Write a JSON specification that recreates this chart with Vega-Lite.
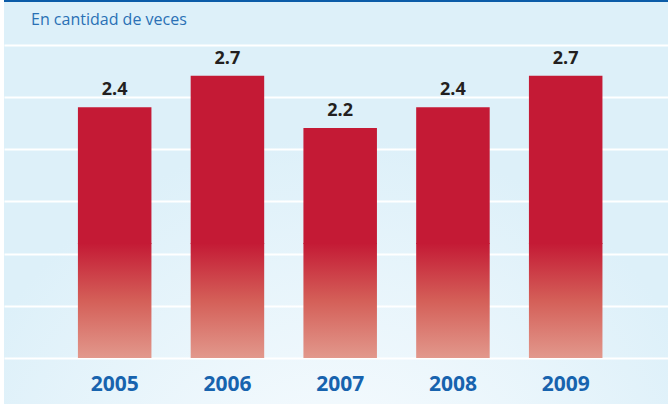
{
  "$schema": "https://vega.github.io/schema/vega-lite/v6.json",
  "width": 664,
  "height": 404,
  "autosize": {"type": "none"},
  "padding": {"left": 4, "top": 0, "right": 0, "bottom": 0},
  "background": "white",
  "config": {
    "font": "Open Sans",
    "view": {
      "stroke": null,
      "fill": {
        "gradient": "radial",
        "x1": 0.5, "y1": 1, "r1": 0,
        "x2": 0.5, "y2": 1, "r2": 0.6,
        "stops": [
          {"offset": 0, "color": "#fbfdff"},
          {"offset": 1, "color": "#ddf0f9"}
        ]
      }
    }
  },
  "title": {
    "text": "En cantidad de veces",
    "anchor": "start",
    "frame": "group",
    "orient": "top",
    "offset": -24,
    "dy": 19,
    "baseline": "alphabetic",
    "dx": 27,
    "fontSize": 16,
    "fontWeight": "normal",
    "color": "#2a70b5"
  },
  "data": {
    "values": [
      {"year": "2005", "value": 2.4},
      {"year": "2006", "value": 2.7},
      {"year": "2007", "value": 2.2},
      {"year": "2008", "value": 2.4},
      {"year": "2009", "value": 2.7}
    ]
  },
  "layer": [
    {
      "mark": {
        "type": "bar",
        "fill": {
          "gradient": "linear",
          "x1": 0, "y1": 0, "x2": 0, "y2": 1,
          "stops": [
            {"offset": 0, "color": "#c41a35"},
            {"offset": 0.5, "color": "#d45f58"},
            {"offset": 1, "color": "#e2988c"}
          ]
        }
      },
      "encoding": {
        "x": {
          "field": "year",
          "type": "nominal",
          "scale": {"paddingInner": 0.348, "paddingOuter": 0.6185, "align": 0.53},
          "axis": {
            "title": null,
            "orient": "bottom",
            "offset": -46,
            "domain": false,
            "ticks": false,
            "tickSize": 0,
            "labelPadding": 32,
            "labelBaseline": "alphabetic",
            "labelFontSize": 21,
            "labelFontWeight": "bold",
            "labelColor": "#1763ae",
            "labelAngle": 0,
            "grid": false
          }
        },
        "y": {
          "datum": 1.1,
          "type": "quantitative",
          "scale": {"domain": [-0.44, 3.426], "nice": false, "zero": false},
          "axis": {
            "title": null,
            "labels": false,
            "ticks": false,
            "domain": false,
            "grid": true,
            "gridColor": "white",
            "gridWidth": 2,
            "gridOpacity": 1,
            "values": [0, 0.5, 1, 1.5, 2, 2.5, 3]
          }
        },
        "y2": {"datum": 0}
      }
    },
    {
      "mark": {"type": "bar", "color": "#c41a35"},
      "encoding": {
        "x": {"field": "year", "type": "nominal"},
        "y": {"field": "value", "type": "quantitative"},
        "y2": {"datum": 1.09}
      }
    },
    {
      "mark": {
        "type": "text",
        "baseline": "alphabetic",
        "dy": -12,
        "fontSize": 18,
        "fontWeight": "bold",
        "color": "#231f20"
      },
      "encoding": {
        "x": {"field": "year", "type": "nominal"},
        "y": {"field": "value", "type": "quantitative"},
        "text": {"field": "value", "type": "quantitative", "format": ".1f"}
      }
    },
    {
      "data": {"values": [{"top": 3.426}]},
      "mark": {"type": "rule", "color": "#0b5ca8", "strokeWidth": 4},
      "encoding": {
        "y": {"field": "top", "type": "quantitative"}
      }
    }
  ]
}
